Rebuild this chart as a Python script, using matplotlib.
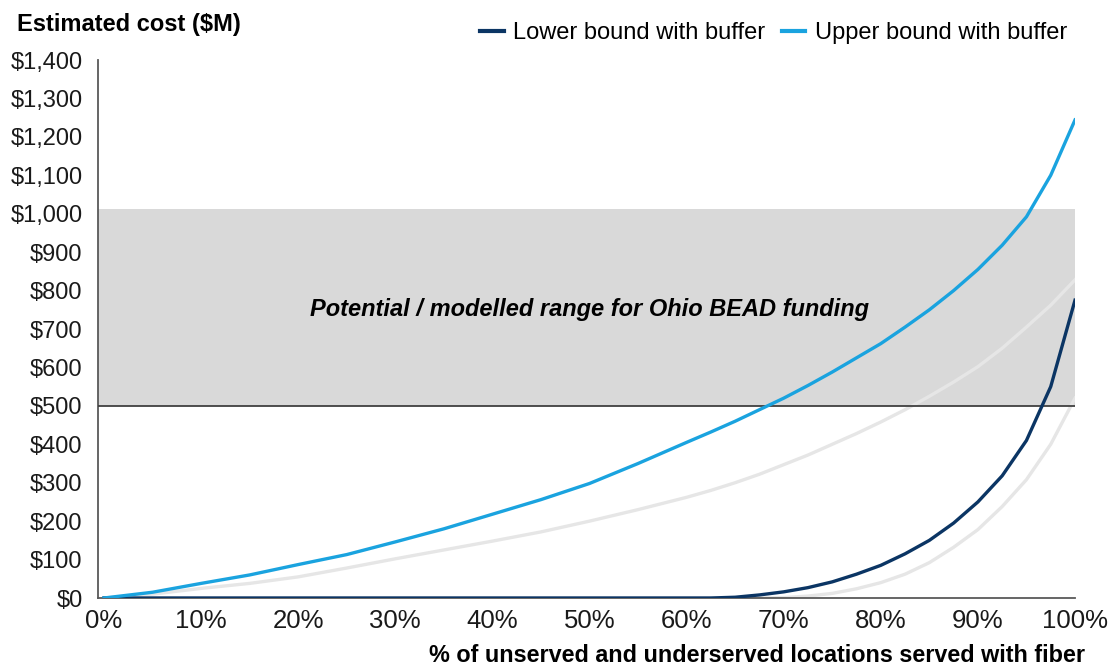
import matplotlib.pyplot as plt
from matplotlib.ticker import FuncFormatter

# share of unserved / underserved locations reached (%)
served_pct = [0, 5, 10, 15, 20, 25, 30, 35, 40, 45, 50, 55, 60,
              62.5, 65, 67.5, 70, 72.5, 75, 77.5, 80, 82.5, 85, 87.5, 90, 92.5, 95, 97.5, 100]

# estimated cost in $M
upper_buffer = [0, 15, 38, 60, 87, 113, 146, 180, 218, 256, 298, 350, 405,
                432, 460, 490, 520, 553, 588, 625, 662, 705, 750, 800, 855, 918, 992, 1100, 1244]
upper_plain = [0, 10, 25, 38, 55, 78, 102, 125, 148, 172, 200, 230, 262,
               280, 300, 322, 347, 372, 400, 428, 458, 490, 525, 562, 602, 650, 705, 762, 828]
lower_buffer = [0, 0, 0, 0, 0, 0, 0, 0, 0, 0, 0, 0, 0,
                0, 2, 8, 16, 27, 42, 62, 85, 115, 150, 195, 250, 318, 410, 550, 775]
lower_plain = [0, 0, 0, 0, 0, 0, 0, 0, 0, 0, 0, 0, 0,
               0, 0, 0, 1, 5, 12, 24, 40, 62, 92, 132, 178, 238, 308, 400, 520]

funding_low, funding_high = 500, 1012
x_ticks = [0, 10, 20, 30, 40, 50, 60, 70, 80, 90, 100]
y_ticks = list(range(0, 1500, 100))

plt.rcParams['font.family'] = ['Liberation Sans', 'DejaVu Sans']

fig = plt.figure(figsize=(11.11, 6.66), dpi=100)
ax = fig.add_axes([0.0882, 0.1021, 0.8794, 0.8078])

x = [p / 100 for p in served_pct]

# funding range band and its floor
ax.axhspan(funding_low, funding_high, color='#d9d9d9', lw=0, zorder=0)
ax.plot(x, upper_plain, color='#e6e6e6', lw=2.4, zorder=2)
ax.plot(x, lower_plain, color='#e6e6e6', lw=2.4, zorder=2)
ax.axhline(funding_low, color='#404040', lw=1.3, zorder=3)
ax.plot(x, lower_buffer, color='#0b3564', lw=2.4, zorder=4, label='Lower bound with buffer')
ax.plot(x, upper_buffer, color='#1aa3df', lw=2.4, zorder=5, label='Upper bound with buffer')

ax.text(0.5, 752, 'Potential / modelled range for Ohio BEAD funding',
        ha='center', va='center', fontsize=17, fontweight='bold', style='italic', zorder=6)

ax.set_xlim(-0.0062, 1.0)
ax.set_ylim(0, 1400)
ax.set_xticks([t / 100 for t in x_ticks])
ax.set_xticklabels([f'{t}%' for t in x_ticks])
ax.set_yticks(y_ticks)
ax.yaxis.set_major_formatter(FuncFormatter(lambda v, _: f'${v:,.0f}'))
ax.tick_params(axis='y', length=0, pad=11, labelsize=17, colors='#1a1a1a')
ax.tick_params(axis='x', length=0, pad=8, labelsize=18.5, colors='#1a1a1a')

for side in ('top', 'right'):
    ax.spines[side].set_visible(False)
for side in ('left', 'bottom'):
    ax.spines[side].set_color('#595959')
    ax.spines[side].set_linewidth(1.3)

fig.text(17 / 1111, 1 - 25 / 666, 'Estimated cost ($M)', ha='left', va='center',
         fontsize=17, fontweight='bold')
fig.text(1085 / 1111, 1 - 655 / 666, '% of unserved and underserved locations served with fiber',
         ha='right', va='center', fontsize=16.8, fontweight='bold')

leg = fig.legend(loc='center right', bbox_to_anchor=(1067 / 1111, 1 - 33 / 666), ncol=2,
                 frameon=False, fontsize=17, handlelength=1.0, handletextpad=0.4,
                 columnspacing=0.7, borderpad=0, borderaxespad=0)
for line in leg.get_lines():
    line.set_linewidth(3)

fig.savefig('out.png', dpi=100)
